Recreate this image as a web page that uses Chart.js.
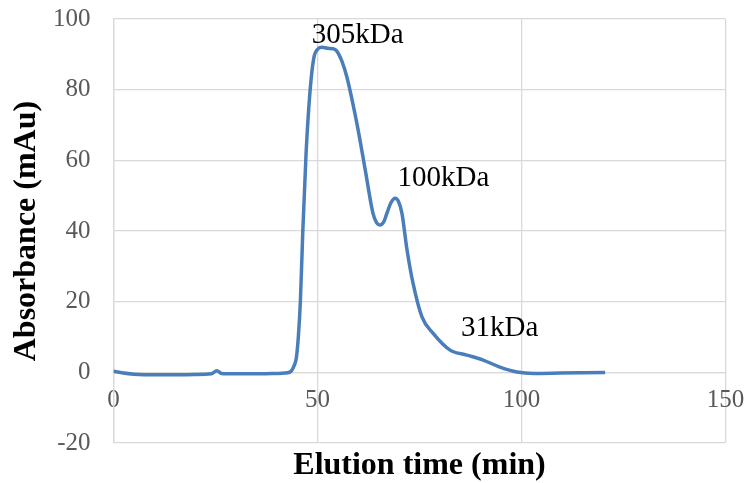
<!DOCTYPE html>
<html>
<head>
<meta charset="utf-8">
<script src="https://cdn.jsdelivr.net/npm/chart.js@4.4.1/dist/chart.umd.min.js"></script>
<style>
html,body{margin:0;padding:0;background:#fff;}
#wrap{width:745px;height:483px;}
</style>
</head>
<body>
<div id="wrap"><canvas id="c" width="745" height="483"></canvas></div>
<script>
// Elution time (min)
const elutionTime = [0, 2, 5, 10, 15, 20, 24, 25.3, 26.5, 28, 32, 36, 40, 42, 43.5, 44.3, 44.8, 45.3, 45.8, 46.4, 47.2, 48.2, 49.1, 50.1, 51.1, 52.5, 53.8, 54.7, 56, 57.2, 58.5, 59.9, 61.7, 63.6, 64.5, 65.3, 66.2, 67, 68, 69, 69.8, 70.7, 71.9, 73.4, 75.6, 78.3, 82.5, 86.6, 90.6, 94.7, 98.9, 103, 109.4, 115, 120.5];
// Absorbance (mAu)
const absorbance = [0.3, -0.1, -0.5, -0.7, -0.7, -0.6, -0.4, 0.5, -0.3, -0.4, -0.4, -0.4, -0.3, -0.2, 0.3, 2, 4, 10, 20, 40, 62, 80, 89, 91.5, 92, 91.7, 91.6, 91, 88, 83.6, 77, 69, 57.3, 45, 42.3, 41.7, 42.5, 45, 48, 49.3, 48.5, 45, 35, 25.3, 15.7, 11.1, 6.3, 4.9, 3.5, 1.5, 0.1, -0.3, -0.2, -0.1, 0];
// Peak annotations
const peakLabels = ['305kDa', '100kDa', '31kDa'];
const peakLabelX = [48.6, 69.6, 85.2];
const peakLabelY = [93.1, 52.7, 10.3];
// Axis ticks
const xTicks = [0, 50, 100, 150];
const yTicks = [-20, 0, 20, 40, 60, 80, 100];

const points = elutionTime.map((t, i) => ({x: t, y: absorbance[i]}));

const peakLabelPlugin = {
  id: 'peakLabels',
  afterDatasetsDraw(chart) {
    const ctx = chart.ctx;
    const xs = chart.scales.x, ys = chart.scales.y;
    ctx.save();
    ctx.font = '29px "Liberation Serif", "Times New Roman", serif';
    ctx.fillStyle = '#000';
    ctx.textAlign = 'left';
    ctx.textBaseline = 'alphabetic';
    peakLabels.forEach((t, i) => {
      ctx.fillText(t, xs.getPixelForValue(peakLabelX[i]), ys.getPixelForValue(peakLabelY[i]));
    });
    ctx.restore();
  }
};

const gridColor = '#d9d9d9';
const tickFont = {family: '"Liberation Serif", "Times New Roman", serif', size: 25};
const zeroPad = s => { s.paddingLeft = 0; s.paddingRight = 0; s.paddingTop = 0; s.paddingBottom = 0; };

new Chart(document.getElementById('c'), {
  type: 'line',
  data: {
    datasets: [{
      data: points,
      borderColor: '#4a7ebb',
      borderWidth: 3.5,
      pointRadius: 0,
      fill: false,
      cubicInterpolationMode: 'monotone'
    }]
  },
  options: {
    responsive: false,
    devicePixelRatio: 1,
    animation: false,
    layout: {padding: {left: 0, right: 19.5, top: 19, bottom: 0}},
    plugins: {
      legend: {display: false},
      tooltip: {enabled: false},
      title: {
        display: true,
        position: 'bottom',
        fullSize: false,
        text: 'Elution time (min)',
        color: '#000',
        font: {family: '"Liberation Serif", "Times New Roman", serif', size: 32, weight: 'bold', lineHeight: 1.06},
        padding: {top: 6, bottom: 0}
      }
    },
    scales: {
      x: {
        type: 'linear',
        position: {y: 0},
        min: 0, max: 150,
        afterBuildTicks: s => { s.ticks = xTicks.map(v => ({value: v})); },
        afterFit: zeroPad,
        grid: {color: gridColor, lineWidth: 1.3, drawTicks: false},
        border: {color: gridColor, width: 1.3},
        ticks: {color: '#595959', font: tickFont, padding: 13, maxRotation: 0}
      },
      y: {
        type: 'linear',
        min: -20, max: 100,
        afterBuildTicks: s => { s.ticks = yTicks.map(v => ({value: v})); },
        afterFit: s => { zeroPad(s); s.width = 113.5; },
        grid: {color: gridColor, lineWidth: 1.3, drawTicks: false},
        border: {color: gridColor, width: 1.3},
        ticks: {color: '#595959', font: tickFont, padding: 23},
        title: {
          display: true,
          text: 'Absorbance (mAu)',
          color: '#000',
          font: {family: '"Liberation Serif", "Times New Roman", serif', size: 32, weight: 'bold', lineHeight: 1.2},
          padding: {top: 8, bottom: 0}
        }
      }
    }
  },
  plugins: [peakLabelPlugin]
});
</script>
</body>
</html>
